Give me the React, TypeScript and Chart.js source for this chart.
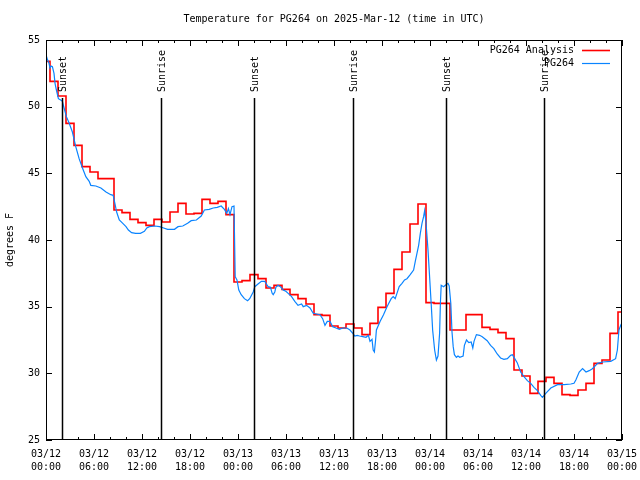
import React, { useEffect, useRef } from 'react';
import { Chart, registerables } from 'chart.js';

Chart.register(...registerables);

const FONT = '"DejaVu Sans Mono", "Liberation Mono", monospace';

const TITLE = 'Temperature for PG264 on 2025-Mar-12 (time in UTC)';
const Y_TITLE = 'degrees F';
const ANALYSIS_LABEL = 'PG264 Analysis';
const OBS_LABEL = 'PG264';

const xTickDates = ['03/12', '03/12', '03/12', '03/12', '03/13', '03/13', '03/13', '03/13', '03/14', '03/14', '03/14', '03/14', '03/15'];
const xTickTimes = ['00:00', '06:00', '12:00', '18:00', '00:00', '06:00', '12:00', '18:00', '00:00', '06:00', '12:00', '18:00', '00:00'];

// Hourly analysis values, hour 0 .. 72 from 03/12 00:00 UTC
const analysisValues = [
  53.4, 51.9, 50.8, 48.75, 47.1, 45.5, 45.1, 44.6, 44.6, 42.25,
  42.05, 41.55, 41.3, 41.1, 41.55, 41.35, 42.1, 42.75, 41.95, 42.0,
  43.05, 42.75, 42.9, 41.9, 36.85, 36.95, 37.4, 37.1, 36.4, 36.6,
  36.3, 35.9, 35.6, 35.2, 34.4, 34.35, 33.55, 33.4, 33.7, 33.4,
  32.9, 33.75, 34.95, 36.0, 37.8, 39.1, 41.2, 42.7, 35.3, 35.25,
  35.25, 33.25, 33.25, 34.4, 34.4, 33.45, 33.3, 33.05, 32.6, 30.25,
  29.8, 28.5, 29.4, 29.7, 29.25, 28.4, 28.35, 28.75, 29.25, 30.75,
  31.0, 33.0, 34.6,
];

// Observation times (hours since 03/12 00:00 UTC) and temperatures
const obsHours = [
  0, 0.17, 0.38, 0.5, 0.65, 0.8, 1.0, 1.13, 1.3, 1.55, 1.84, 2.05, 2.26, 2.55, 2.9, 3.3, 3.72, 4.14, 4.56, 4.98,
  5.4, 5.6, 6.23, 6.86, 7.5, 8.1, 8.4, 8.66, 8.83, 9.16, 9.6, 10.0, 10.3, 10.7, 11.2, 11.8, 12.3, 12.6, 12.92, 13.6,
  14.2, 14.7, 15.2, 16.06, 16.5, 17.1, 17.7, 18.15, 18.8, 19.4, 19.8, 20.4, 20.9, 21.4, 21.9, 22.3, 22.6, 22.8, 23.0, 23.25,
  23.5, 23.65, 23.87, 24.1, 24.4, 24.8, 25.2, 25.46, 25.9, 26.1, 26.5, 26.93, 27.35, 27.55, 27.76, 28.06, 28.27, 28.4, 28.6, 28.73,
  29.0, 29.3, 29.64, 29.98, 30.27, 30.7, 31.1, 31.5, 31.95, 32.15, 32.57, 33.0, 33.4, 33.83, 34.24, 34.58, 34.87, 35.16, 35.5, 35.84,
  36.25, 36.67, 37.1, 37.6, 38.0, 38.35, 38.6, 38.9, 39.2, 39.6, 40.0, 40.3, 40.5, 40.75, 40.9, 41.05, 41.2, 41.3, 41.77, 42.19,
  42.6, 42.8, 43.15, 43.4, 43.65, 43.87, 44.15, 44.5, 44.82, 45.12, 45.53, 45.95, 46.16, 46.37, 46.58, 46.79, 47.0, 47.2, 47.33, 47.5,
  47.75, 47.9, 48.17, 48.33, 48.58, 48.8, 49.0, 49.2, 49.3, 49.4, 49.7, 49.92, 50.25, 50.4, 50.6, 50.75, 50.9, 51.05, 51.3, 51.5,
  51.72, 52.14, 52.3, 52.56, 52.85, 53.15, 53.35, 53.5, 53.8, 54.2, 54.53, 55.15, 55.57, 55.98, 56.4, 56.82, 57.24, 57.67, 58.08, 58.3,
  58.5, 58.9, 59.33, 59.75, 60.17, 60.59, 61.0, 61.43, 61.84, 62.05, 62.47, 63.1, 63.94, 64.76, 65.6, 66.0, 66.23, 66.65, 67.07, 67.5,
  67.9, 68.3, 68.95, 69.58, 70.6, 71.2, 71.42, 71.62, 71.84, 72.0,
];
const obsValues = [
  53.9, 53.55, 53.25, 52.9, 53.05, 53.0, 52.5, 51.75, 51.25, 50.6, 50.5, 50.4, 49.9, 49.25, 48.75, 48.1, 47.0, 46.1, 45.4, 44.75,
  44.4, 44.1, 44.05, 43.9, 43.6, 43.4, 43.35, 42.6, 42.1, 41.5, 41.25, 41.0, 40.75, 40.55, 40.5, 40.5, 40.65, 40.9, 41.0, 41.05,
  41.0, 40.9, 40.8, 40.8, 41.0, 41.05, 41.25, 41.45, 41.5, 41.8, 42.25, 42.3, 42.4, 42.45, 42.55, 42.3, 42.0, 42.35, 41.9, 42.5,
  42.55, 37.25, 37.0, 36.25, 35.9, 35.6, 35.45, 35.6, 36.1, 36.5, 36.7, 36.9, 36.9, 36.7, 36.5, 36.45, 36.0, 35.9, 36.1, 36.45,
  36.6, 36.5, 36.25, 36.15, 36.0, 35.75, 35.4, 35.1, 35.2, 35.0, 35.1, 34.9, 34.5, 34.45, 34.4, 34.1, 33.6, 33.9, 33.9, 33.5,
  33.4, 33.3, 33.4, 33.4, 33.25, 33.0, 32.8, 32.85, 32.8, 32.75, 32.7, 32.85, 32.4, 32.55, 31.75, 31.6, 32.5, 33.25, 33.9, 34.4,
  34.95, 35.2, 35.6, 35.75, 35.6, 36.0, 36.5, 36.75, 37.0, 37.1, 37.4, 37.75, 38.4, 39.0, 39.6, 40.5, 41.25, 41.75, 42.2, 41.3,
  39.25, 37.75, 35.0, 33.25, 31.75, 31.0, 31.3, 33.0, 35.25, 36.6, 36.5, 36.6, 36.75, 36.55, 35.25, 33.1, 32.0, 31.4, 31.2, 31.3,
  31.2, 31.3, 32.1, 32.5, 32.3, 32.35, 31.9, 32.4, 32.9, 32.85, 32.75, 32.45, 32.1, 31.85, 31.45, 31.15, 31.05, 31.1, 31.35, 31.4,
  31.2, 30.8, 30.1, 29.75, 29.45, 29.25, 28.95, 28.7, 28.35, 28.2, 28.5, 28.9, 29.15, 29.15, 29.2, 29.25, 29.5, 30.1, 30.35, 30.1,
  30.2, 30.35, 30.75, 30.85, 30.9, 31.1, 31.75, 33.25, 33.6, 33.8,
];

const sunLabels = ['Sunset', 'Sunrise', 'Sunset', 'Sunrise', 'Sunset', 'Sunrise'];
const sunHours = [2.1, 14.45, 26.05, 38.4, 50.05, 62.3];

const yTickValues = [25, 30, 35, 40, 45, 50, 55];

const RED = '#ff0000';
const BLUE = '#0a84ff';

const decorPlugin = {
  id: 'decor',
  beforeDraw(chart: any) {
    const ctx = chart.ctx;
    ctx.save();
    ctx.fillStyle = '#ffffff';
    ctx.fillRect(0, 0, chart.width, chart.height);
    ctx.restore();
  },
  afterDraw(chart: any) {
    const { ctx, chartArea: a, scales } = chart;
    const x = scales.x;
    const y = scales.y;
    ctx.save();
    ctx.strokeStyle = '#000';
    ctx.lineWidth = 1;
    // frame
    ctx.strokeRect(a.left + 0.5, a.top + 0.5, a.right - a.left - 1, a.bottom - a.top - 1);
    // y ticks (inward, both sides)
    ctx.beginPath();
    yTickValues.forEach((v) => {
      const py = Math.round(y.getPixelForValue(v)) + 0.5;
      ctx.moveTo(a.left, py);
      ctx.lineTo(a.left + 6, py);
      ctx.moveTo(a.right, py);
      ctx.lineTo(a.right - 6, py);
    });
    // x ticks every 2 hours, longer every 6
    for (let h = 0; h <= 72; h += 2) {
      const px = Math.round(x.getPixelForValue(h)) + 0.5;
      const len = h % 6 === 0 ? 6 : 3;
      ctx.moveTo(px, a.bottom);
      ctx.lineTo(px, a.bottom - len);
      ctx.moveTo(px, a.top);
      ctx.lineTo(px, a.top + len);
    }
    ctx.stroke();
    // sun lines and labels
    const hgt = a.bottom - a.top;
    const lineTop = a.bottom - 0.855 * hgt;
    const labelY = a.bottom - 0.87 * hgt;
    ctx.font = `10px ${FONT}`;
    ctx.fillStyle = '#000';
    ctx.lineWidth = 1.5;
    sunHours.forEach((h, i) => {
      const px = Math.floor(x.getPixelForValue(h)) + 0.5;
      ctx.beginPath();
      ctx.moveTo(px, lineTop);
      ctx.lineTo(px, a.bottom);
      ctx.stroke();
      ctx.save();
      ctx.translate(px + 1, labelY);
      ctx.rotate(-Math.PI / 2);
      ctx.textAlign = 'left';
      ctx.textBaseline = 'middle';
      ctx.fillText(sunLabels[i], 0, 0);
      ctx.restore();
    });
    // legend
    const entries = [
      { label: ANALYSIS_LABEL, color: RED, w: 1.6 },
      { label: OBS_LABEL, color: BLUE, w: 1.2 },
    ];
    entries.forEach((e, i) => {
      const ly = a.top + 10 + i * 13;
      ctx.textAlign = 'right';
      ctx.textBaseline = 'middle';
      ctx.fillStyle = '#000';
      ctx.fillText(e.label, a.right - 48, ly);
      ctx.strokeStyle = e.color;
      ctx.lineWidth = e.w;
      ctx.beginPath();
      ctx.moveTo(a.right - 40, Math.round(ly) + 0.5);
      ctx.lineTo(a.right - 12, Math.round(ly) + 0.5);
      ctx.stroke();
    });
    ctx.restore();
  },
};

export default function App() {
  const ref = useRef<HTMLCanvasElement>(null);
  useEffect(() => {
    const canvas = ref.current;
    if (!canvas) return;
    const chart = new Chart(canvas, {
      type: 'line',
      data: {
        datasets: [
          {
            label: ANALYSIS_LABEL,
            data: analysisValues.map((v, i) => ({ x: i, y: v })),
            borderColor: RED,
            backgroundColor: RED,
            borderWidth: 1.6,
            stepped: 'middle',
            pointRadius: 0,
            fill: false,
            order: 2,
          },
          {
            label: OBS_LABEL,
            data: obsHours.map((h, i) => ({ x: h, y: obsValues[i] })),
            borderColor: BLUE,
            backgroundColor: BLUE,
            borderWidth: 1.2,
            pointRadius: 0,
            tension: 0,
            fill: false,
            order: 1,
          },
        ],
      },
      options: {
        responsive: false,
        animation: false,
        events: [],
        layout: { padding: { left: 0, right: 18, top: 0, bottom: 0 } },
        plugins: {
          legend: { display: false },
          tooltip: { enabled: false },
          title: {
            display: true,
            fullSize: false,
            text: TITLE,
            color: '#000',
            font: { family: FONT, size: 10, weight: 'normal', lineHeight: 1.2 },
            padding: { top: 13, bottom: 15 },
          },
        },
        scales: {
          x: {
            type: 'linear',
            position: 'bottom',
            min: 0,
            max: 72,
            grid: { display: true, drawOnChartArea: false, drawTicks: true, tickLength: 6, color: 'rgba(0,0,0,0)' },
            border: { display: false },
            ticks: {
              stepSize: 6,
              autoSkip: false,
              maxRotation: 0,
              padding: 2,
              color: '#000',
              font: { family: FONT, size: 10, lineHeight: 1.3 },
              callback: (v: any) => {
                const i = Math.round(Number(v) / 6);
                return [xTickDates[i], xTickTimes[i]];
              },
            },
            afterFit: (s: any) => {
              s.height = 40;
            },
          },
          y: {
            type: 'linear',
            min: 25,
            max: 55,
            grid: { display: false, drawTicks: false },
            border: { display: false },
            ticks: {
              stepSize: 5,
              padding: 6,
              color: '#000',
              font: { family: FONT, size: 10 },
            },
            title: {
              display: true,
              text: Y_TITLE,
              color: '#000',
              font: { family: FONT, size: 10, lineHeight: 1.2 },
              padding: { top: 4, bottom: 0 },
            },
            afterFit: (s: any) => {
              s.width = 46;
            },
          },
        },
      },
      plugins: [decorPlugin],
    } as any);
    return () => chart.destroy();
  }, []);
  return (
    <div style={{ position: 'absolute', left: 0, top: 0, width: 640, height: 480, background: '#fff' }}>
      <canvas ref={ref} width={640} height={480} style={{ display: 'block', width: 640, height: 480 }} />
    </div>
  );
}
